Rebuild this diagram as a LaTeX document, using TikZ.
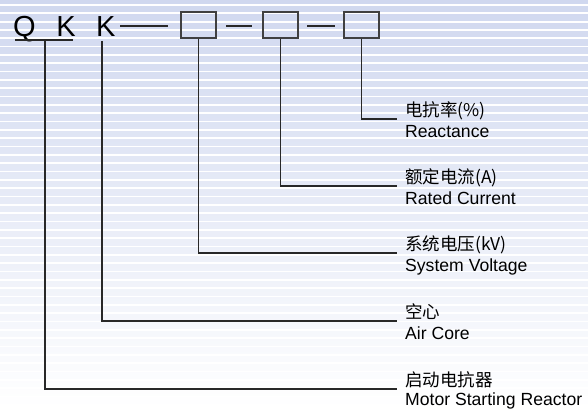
\documentclass[tikz,border=0pt]{standalone}
\usepackage{fontspec}
\setmainfont{Liberation Sans}
\newfontfamily\cjk{Noto Sans CJK SC}
\definecolor{bgtop}{RGB}{208,216,239}
\definecolor{linec}{RGB}{40,40,40}
\definecolor{boxc}{RGB}{64,64,64}
\begin{document}
\begin{tikzpicture}[x=1pt,y=-1pt,
  lnk/.style={draw=linec, line width=1.1pt},
  codebox/.style={draw=boxc, line width=1.4pt, minimum width=35pt, minimum height=26pt, inner sep=0pt},
  letter/.style={font=\fontsize{29}{29}\selectfont, anchor=base, inner sep=0pt, text=black},
  cn/.style={font=\cjk\fontsize{17.5}{17.5}\selectfont, anchor=base west, inner sep=0pt, text=black},
  en/.style={font=\fontsize{17.6}{17.6}\selectfont, anchor=base west, inner sep=0pt, text=black}]
\useasboundingbox (0,0) rectangle (588,409);
\shade[top color=bgtop, bottom color=white] (0,0) rectangle (588,409);
\foreach \i in {0,...,49}
  \draw[white, line width=1.7pt] (0,{5+8.33*\i}) -- (588,{5+8.33*\i});
% code letters
\node[letter] (q) at (24.5,37) {Q};
\node[letter] (k1) at (66,37) {K};
\node[letter] (k2) at (105.8,37) {K};
\draw[lnk] (15,40) coordinate (u1) -- (73,40) coordinate (u2);
% boxes
\node[codebox] (b1) at (198.5,25) {};
\node[codebox] (b2) at (280.5,25) {};
\node[codebox] (b3) at (361.5,25) {};
\coordinate (d1a) at (120,26); \coordinate (d1b) at (168,26);
\coordinate (d2a) at (226,26); \coordinate (d2b) at (252,26);
\coordinate (d3a) at (307,26); \coordinate (d3b) at (335,26);
\draw[lnk] (d1a) -- (d1b);
\draw[lnk] (d2a) -- (d2b);
\draw[lnk] (d3a) -- (d3b);
% line ends
\coordinate (e3) at (397,119);
\coordinate (e2) at (397,186);
\coordinate (e1) at (397,253);
\coordinate (ek) at (397,321);
\coordinate (eq) at (397,389);
\coordinate (sq) at (45,40);
\coordinate (sk) at (102,41);
% labels
\node[cn] (c3) at (405,116) {电抗率(\%)};
\node[en] (t3) at (405,137.5) {Reactance};
\node[cn] (c2) at (405,183) {额定电流(A)};
\node[en] (t2) at (405,204.5) {Rated Current};
\node[cn] (c1) at (405,250) {系统电压(kV)};
\node[en] (t1) at (405,271.5) {System Voltage};
\node[cn] (ck) at (405,318) {空心};
\node[en] (tk) at (405,339.5) {Air Core};
\node[cn] (cq) at (405,386) {启动电抗器};
\node[en] (tq) at (405,405) {Motor Starting Reactor};
% connectors
\draw[lnk] (b3.south) |- (e3);
\draw[lnk] (b2.south) |- (e2);
\draw[lnk] (b1.south) |- (e1);
\draw[lnk] (sk) |- (ek);
\draw[lnk] (sq) |- (eq);
\end{tikzpicture}
\end{document}
